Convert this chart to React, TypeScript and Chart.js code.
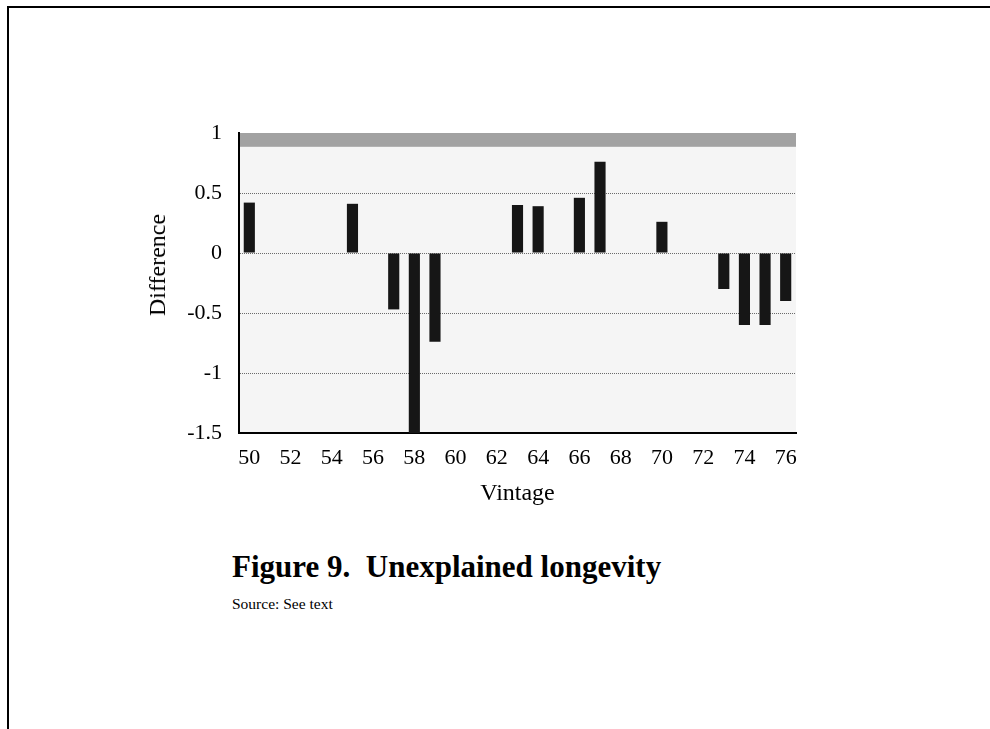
import React, { useEffect, useRef } from 'react';
import { Chart, registerables } from 'chart.js';

Chart.register(...registerables);

const vintages = ['50', '51', '52', '53', '54', '55', '56', '57', '58', '59', '60', '61', '62', '63', '64', '65', '66', '67', '68', '69', '70', '71', '72', '73', '74', '75', '76'];
const differences: (number | null)[] = [0.42, null, null, null, null, 0.41, null, -0.47, -1.5, -0.74, null, null, null, 0.40, 0.39, null, 0.46, 0.76, null, null, 0.26, null, null, -0.30, -0.60, -0.60, -0.40];
const shownXLabels = ['50', '52', '54', '56', '58', '60', '62', '64', '66', '68', '70', '72', '74', '76'];
const yMin = -1.5;
const yMax = 1;
const yStep = 0.5;
const bandFrom = 0.885;

const SERIF = '"Liberation Serif", "Times New Roman", serif';

const plotBg = {
  id: 'plotBg',
  beforeDraw(chart: any) {
    const { ctx, chartArea, scales } = chart;
    const { left, top, right, bottom } = chartArea;
    ctx.save();
    ctx.fillStyle = '#f5f5f5';
    ctx.fillRect(left, top, right - left, bottom - top);
    const bandBottom = scales.y.getPixelForValue(bandFrom);
    ctx.fillStyle = '#a2a2a2';
    ctx.fillRect(left, top, right - left, bandBottom - top);
    ctx.restore();
  },
};

export default function App() {
  const canvasRef = useRef<HTMLCanvasElement | null>(null);

  useEffect(() => {
    if (!canvasRef.current) return;
    const chart = new Chart(canvasRef.current, {
      type: 'bar',
      data: {
        labels: vintages,
        datasets: [
          {
            data: differences,
            backgroundColor: '#161616',
            borderWidth: 0,
            barPercentage: 0.54,
            categoryPercentage: 1,
          },
        ],
      },
      options: {
        animation: false,
        responsive: false,
        devicePixelRatio: 1,
        layout: { padding: { left: 0, top: 133, right: 194, bottom: 0 } },
        plugins: { legend: { display: false }, tooltip: { enabled: false }, title: { display: false } },
        scales: {
          x: {
            type: 'category',
            offset: true,
            grid: { display: false, drawTicks: false },
            border: { display: true, color: '#000', width: 2 },
            ticks: {
              autoSkip: false,
              maxRotation: 0,
              minRotation: 0,
              padding: 12,
              color: '#000',
              font: { family: SERIF, size: 22 },
              callback: (_v: any, i: number) => (shownXLabels.includes(vintages[i]) ? vintages[i] : ''),
            },
            title: {
              display: true,
              text: 'Vintage',
              color: '#000',
              font: { family: SERIF, size: 24 },
              padding: { top: 0, bottom: 12 },
            },
            afterFit: (scale: any) => {
              scale.height = 87;
            },
          },
          y: {
            min: yMin,
            max: yMax,
            ticks: {
              stepSize: yStep,
              padding: 17,
              color: '#000',
              font: { family: SERIF, size: 22 },
              callback: (v: any) => String(Number(v)),
            },
            grid: {
              drawTicks: false,
              lineWidth: 1,
              color: (ctx: any) =>
                ctx.tick && (ctx.tick.value === yMax || ctx.tick.value === yMin) ? 'rgba(0,0,0,0)' : '#6a6a6a',
            },
            border: { display: true, color: '#000', width: 2, dash: [1, 1] },
            afterFit: (scale: any) => {
              scale.width = 239;
            },
          },
        },
      },
      plugins: [plotBg],
    });
    return () => chart.destroy();
  }, []);

  return (
    <div style={{ position: 'absolute', left: 0, top: 0, width: 990, height: 729, overflow: 'hidden', background: '#fff' }}>
      <div
        style={{
          position: 'absolute',
          left: 7,
          top: 6,
          width: 1000,
          height: 800,
          borderTop: '2px solid #000',
          borderLeft: '2px solid #000',
        }}
      />
      <div style={{ position: 'absolute', left: 0, top: 0, width: 990, height: 520 }}>
        <canvas ref={canvasRef} width={990} height={520} style={{ display: 'block' }} />
      </div>
      <div
        style={{
          position: 'absolute',
          left: 157,
          top: 265,
          transform: 'translate(-50%, -50%) rotate(-90deg)',
          fontFamily: SERIF,
          fontSize: 24,
          lineHeight: 1,
          whiteSpace: 'nowrap',
          color: '#000',
        }}
      >
        Difference
      </div>
      <div
        style={{
          position: 'absolute',
          left: 232,
          top: 551,
          fontFamily: SERIF,
          fontSize: 31,
          fontWeight: 'bold',
          lineHeight: 1,
          whiteSpace: 'pre',
          color: '#000',
        }}
      >
        {'Figure 9.  Unexplained longevity'}
      </div>
      <div
        style={{
          position: 'absolute',
          left: 232,
          top: 596,
          fontFamily: SERIF,
          fontSize: 15.5,
          lineHeight: 1,
          whiteSpace: 'pre',
          color: '#000',
        }}
      >
        {'Source: See text'}
      </div>
    </div>
  );
}
